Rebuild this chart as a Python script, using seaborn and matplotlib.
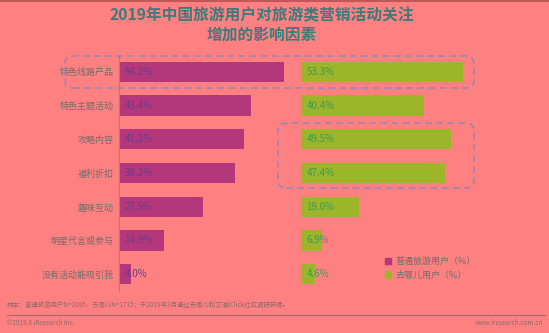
import matplotlib
matplotlib.use("Agg")
import matplotlib.pyplot as plt
import seaborn as sns
import pandas as pd
from matplotlib.patches import FancyBboxPatch, Patch


categories = ["特色线路产品", "特色主题活动", "攻略内容", "福利折扣",
              "趣味互动", "明星代言或参与", "没有活动能吸引我"]
general_users = [54.2, 43.4, 41.1, 38.2, 27.5, 14.9, 4.0]
qunar_users = [53.3, 40.4, 49.5, 47.4, 19.0, 6.9, 4.6]
series_names = ["普通旅游用户（%）", "去哪儿用户（%）"]

bg = "#FF8080"
purple = "#B5377B"
green = "#9CB52B"

sns.set_style("white")
plt.rcParams["font.family"] = ["Noto Sans CJK SC", "DejaVu Sans"]

df = pd.DataFrame({
    "category": categories,
    "general": general_users,
    "qunar": qunar_users,
})


fig = plt.figure(figsize=(5.49, 3.33), dpi=100, facecolor=bg)

ax_l = fig.add_axes([0.2168, 0.126, 0.31, 0.709])
ax_r = fig.add_axes([0.5483, 0.126, 0.31, 0.709])

for ax, col, color, tcolor in [
        (ax_l, "general", purple, "#6B3C8C"),
        (ax_r, "qunar", green, "#3E9A55")]:

    sns.barplot(
        data=df,
        x=col,
        y="category",
        orient="h",
        color=color,
        width=0.6,
        saturation=1,
        linewidth=0,
        ax=ax
    )

    ax.set_facecolor(bg)
    ax.set_xlim(0, 56)
    ax.set_xlabel("")
    ax.set_ylabel("")
    ax.set_xticks([])

    for i, v in enumerate(df[col]):
        ax.text(1.8, i, f"{v:.1f}%", va="center", ha="left",
                fontsize=7, color=tcolor)

    for s in ["top", "right", "bottom"]:
        ax.spines[s].set_visible(False)

ax_l.spines["left"].set_color("#8A8A8A")
ax_l.spines["left"].set_linewidth(0.8)
ax_l.tick_params(axis="y", length=0, pad=4, labelsize=6.5,
                 labelcolor="#6E6E6E")

ax_r.spines["left"].set_visible(False)
ax_r.set_yticks([])


# dashed highlight boxes (pixel positions -> inches)
def px_box(x0, y0, x1, y1):
    return FancyBboxPatch(
        (x0 / 100, (333 - y1) / 100),
        (x1 - x0) / 100,
        (y1 - y0) / 100,
        boxstyle="round,pad=0,rounding_size=0.08",
        transform=fig.dpi_scale_trans,
        fill=False,
        edgecolor="#8E86B8",
        linestyle=(0, (5, 3)),
        linewidth=1.0,
        clip_on=False
    )

fig.patches.append(px_box(65, 56, 474, 88))
fig.patches.append(px_box(278, 123, 474, 188))


handles = [Patch(color=purple), Patch(color=green)]
fig.legend(
    handles,
    series_names,
    loc="upper left",
    bbox_to_anchor=(377 / 549, 1 - 249 / 333),
    frameon=False,
    fontsize=6.5,
    handlelength=0.7,
    handleheight=0.7,
    handletextpad=0.5,
    labelspacing=0.5,
    labelcolor="#6E6E6E"
)


fig.text(0.477, 1 - 15 / 333, "2019年中国旅游用户对旅游类营销活动关注",
         ha="center", va="center", fontsize=11.3, fontweight="bold",
         color="#3A7C7C")
fig.text(0.477, 1 - 35 / 333, "增加的影响因素",
         ha="center", va="center", fontsize=11.3, fontweight="bold",
         color="#3A7C7C")

fig.text(7 / 549, 1 - 305 / 333,
         "样本：普通旅游用户N=2095，去哪儿N=1735；于2019年3月通过去哪儿和艾瑞iClick社区调研获得。",
         ha="left", va="center", fontsize=4.6, color="#8A6A6A")

fig.add_artist(plt.Line2D([7 / 549, 545 / 549], [1 - 315 / 333, 1 - 315 / 333],
                          color="#A06A6A", linewidth=0.8))

fig.text(7 / 549, 1 - 323 / 333, "©2019.6 iResearch Inc.",
         ha="left", va="center", fontsize=4.6, color="#8A6A6A")
fig.text(543 / 549, 1 - 323 / 333, "www.iresearch.com.cn",
         ha="right", va="center", fontsize=4.6, color="#8A6A6A")

fig.add_artist(plt.Line2D([0, 1], [0.998, 0.998], color="#C05858",
                          linewidth=1.5))

fig.savefig("out.png", dpi=100, facecolor=bg)
